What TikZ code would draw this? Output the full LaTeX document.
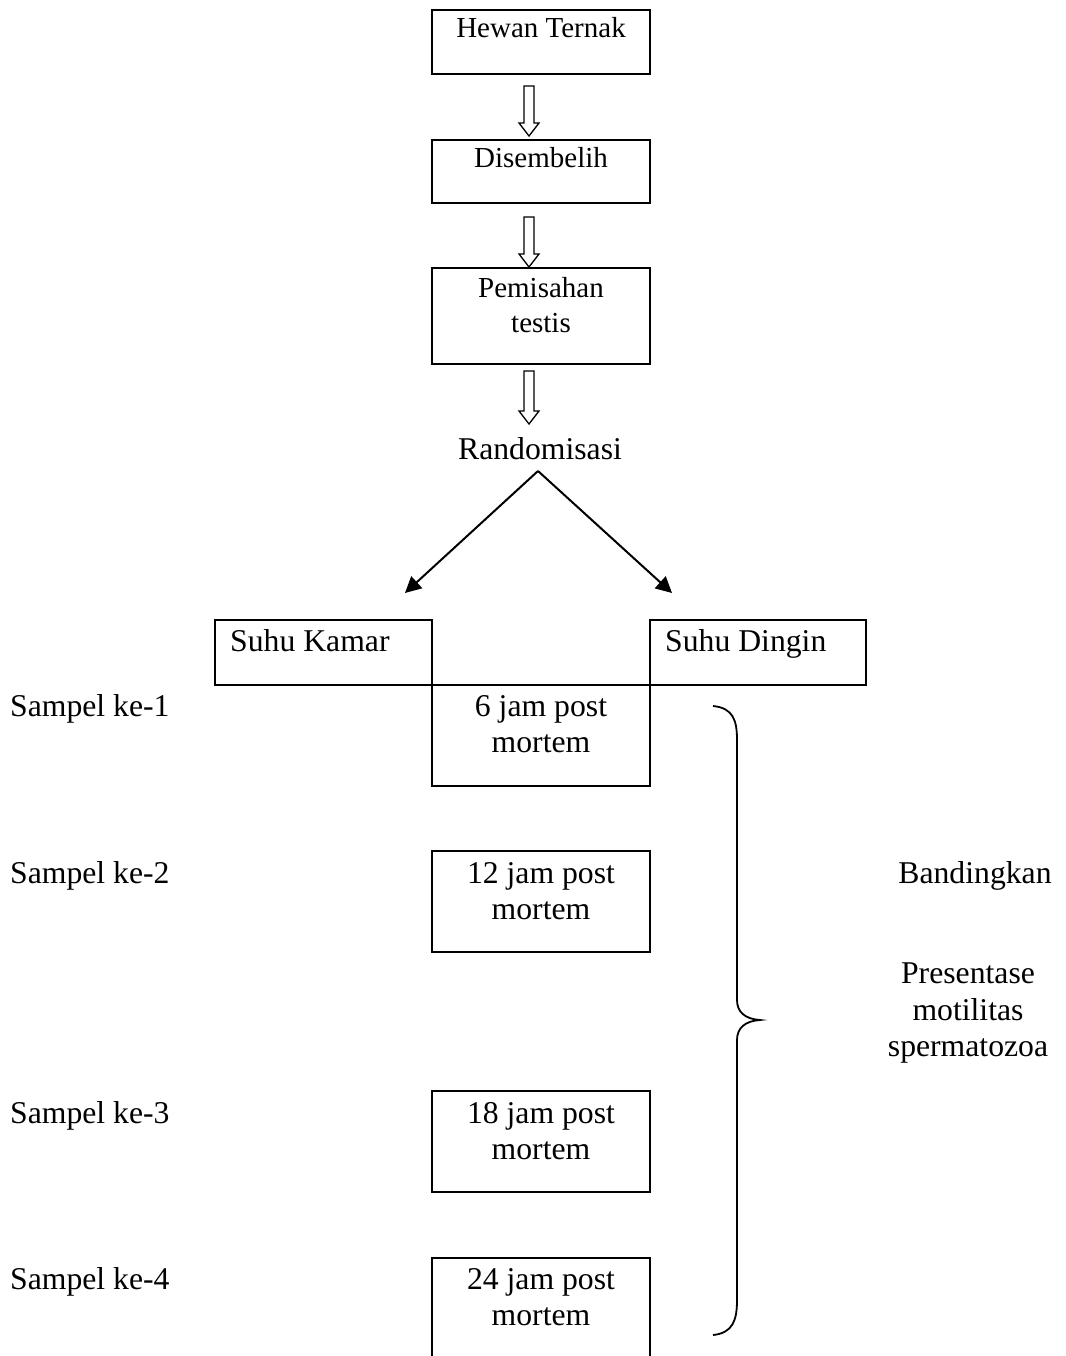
\documentclass[tikz,border=0pt]{standalone}
\usepackage{fontspec}
\setmainfont{Liberation Serif}
\usetikzlibrary{arrows.meta,calc}
\begin{document}
\begin{tikzpicture}[x=1pt,y=-1pt,
  box/.style={draw,line width=2pt,inner sep=0pt,minimum width=218pt},
  lbl/.style={anchor=base,inner sep=0pt,font=\fontsize{31.7}{36}\selectfont},
  slbl/.style={anchor=base,inner sep=0pt,font=\fontsize{29}{35}\selectfont},
  hollow/.style={draw,line width=1.3pt,fill=white},
  branch/.style={line width=2pt,-{Triangle[length=16pt,width=16pt]}}]
\useasboundingbox (0,0) rectangle (1065,1356);
\newcommand{\hollowarrow}[2]{%
  \draw[hollow] let \p1=(#1), \p2=(#2) in
    (\x1-5pt,\y1) -- (\x1+5pt,\y1) -- (\x1+5pt,\y2+13pt) -- (\x1+10pt,\y2+13pt)
    -- (\x1,\y2) -- (\x1-10pt,\y2+13pt) -- (\x1-5pt,\y2+13pt) -- cycle;}
% top boxes
\node[box,minimum height=64pt] (bx1) at (541,42) {};
\node[slbl] (t1) at (541,38) {Hewan Ternak};
\node[box,minimum height=63pt] (bx2) at (541,171.5) {};
\node[slbl] (t2) at (541,168) {Disembelih};
\node[box,minimum height=96pt] (bx3) at (541,316) {};
\node[slbl] (t3a) at (541,297) {Pemisahan};
\node[slbl] (t3b) at (541,332) {testis};
\node[lbl] (rand) at (540,459) {Randomisasi};
% hollow arrows
\path (bx1.south) ++(-12,11) coordinate (h1s);
\path (bx2.north) ++(-12,-3) coordinate (h1e);
\path (bx2.south) ++(-12,13) coordinate (h2s);
\path (bx3.north) ++(-12,0) coordinate (h2e);
\path (bx3.south) ++(-12,6) coordinate (h3s);
\path (bx3.south) ++(-12,59) coordinate (h3e);
\hollowarrow{h1s}{h1e}
\hollowarrow{h2s}{h2e}
\hollowarrow{h3s}{h3e}
% temperature boxes
\node[box,minimum width=217pt,minimum height=65pt] (sk) at (323.5,652.5) {};
\node[lbl,anchor=base west] (skt) at (230,651) {Suhu Kamar};
\node[box,minimum width=216pt,minimum height=65pt] (sd) at (758,652.5) {};
\node[lbl,anchor=base west] (sdt) at (665,651) {Suhu Dingin};
% branch arrows
\coordinate (apex) at (538,471);
\coordinate (lt) at (405,593);
\coordinate (rt) at (672,593);
\draw[branch] (apex) -- (lt);
\draw[branch] (apex) -- (rt);
% time boxes
\node[box,minimum height=101pt] (tb1) at (541,735.5) {};
\node[lbl] (a1) at (541,716) {6 jam post};
\node[lbl] (a2) at (541,752) {mortem};
\node[box,minimum height=101pt] (tb2) at (541,901.5) {};
\node[lbl] (b1) at (541,883) {12 jam post};
\node[lbl] (b2) at (541,919) {mortem};
\node[box,minimum height=101pt] (tb3) at (541,1141.5) {};
\node[lbl] (c1) at (541,1123) {18 jam post};
\node[lbl] (c2) at (541,1159) {mortem};
\draw[line width=2pt] (432,1356) -- (432,1258) -- (650,1258) -- (650,1356);
\node[lbl] (d1) at (541,1289) {24 jam post};
\node[lbl] (d2) at (541,1325) {mortem};
% sample labels
\node[lbl,anchor=base west] (s1) at (10,716) {Sampel ke-1};
\node[lbl,anchor=base west] (s2) at (10,883) {Sampel ke-2};
\node[lbl,anchor=base west] (s3) at (10,1123) {Sampel ke-3};
\node[lbl,anchor=base west] (s4) at (10,1289) {Sampel ke-4};
% brace
\draw[line width=1.8pt] (713,706) .. controls (733,708) and (737,720) .. (737,740)
  -- (737,1000) .. controls (737,1012) and (745,1019) .. (760,1020)
  .. controls (745,1021) and (737,1028) .. (737,1040)
  -- (737,1300) .. controls (737,1320) and (733,1333) .. (713,1335);
% right texts
\node[lbl] (band) at (975,883) {Bandingkan};
\node[lbl] (p1) at (968,983) {Presentase};
\node[lbl] (p2) at (968,1020) {motilitas};
\node[lbl] (p3) at (968,1056) {spermatozoa};
\end{tikzpicture}
\end{document}
